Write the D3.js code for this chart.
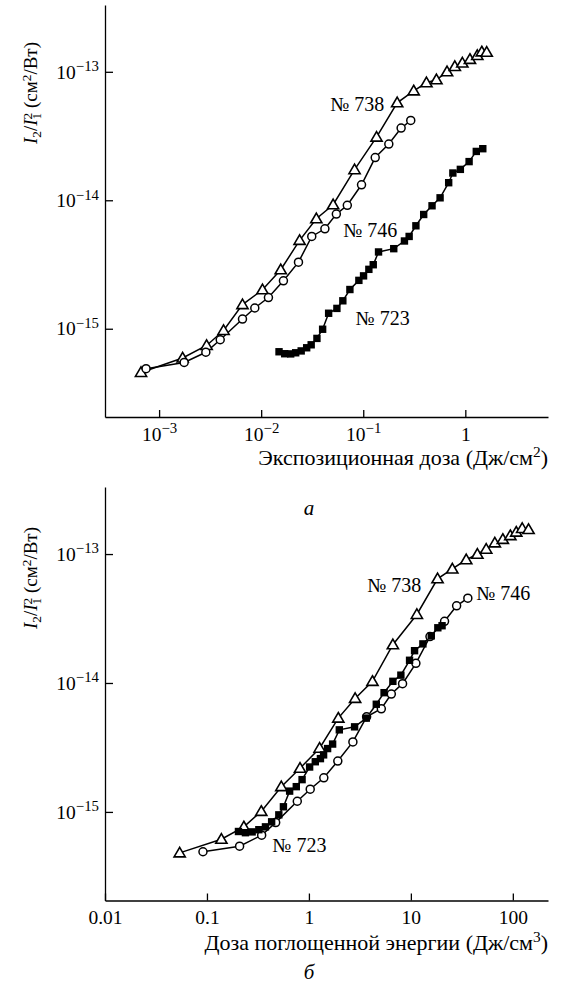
<!DOCTYPE html>
<html>
<head>
<meta charset="utf-8">
<script src="https://cdn.jsdelivr.net/npm/d3@7"></script>
<style>
  body { margin: 0; background: #fff; }
  svg, svg text, svg tspan { font-family: "Liberation Serif", "DejaVu Serif", serif; fill: #000; }
</style>
</head>
<body>
<div id="chart"></div>
<script>
/* ── data: panel a (exposure dose, J/cm^2) ───────────────────────── */
var doseA738 = [6.65e-4, 1.70e-3, 2.92e-3, 4.28e-3, 6.56e-3, 0.0103, 0.01555, 0.0238, 0.0347, 0.0507,
                0.0822, 0.135, 0.215, 0.312, 0.416, 0.521, 0.662, 0.789, 0.935, 1.11, 1.31, 1.45, 1.62];
var ratioA738 = [4.57e-16, 5.92e-16, 7.41e-16, 9.70e-16, 1.54e-15, 2.01e-15, 2.88e-15, 4.87e-15, 7.18e-15, 9.23e-15,
                 1.73e-14, 3.10e-14, 5.74e-14, 7.11e-14, 8.21e-14, 8.67e-14, 1.00e-13, 1.10e-13, 1.17e-13, 1.25e-13, 1.34e-13, 1.43e-13, 1.42e-13];

var doseA746 = [7.45e-4, 1.76e-3, 2.87e-3, 3.97e-3, 6.56e-3, 8.66e-3, 0.01178, 0.01652, 0.0232,
                0.0313, 0.0421, 0.0545, 0.0698, 0.0962, 0.131, 0.178, 0.235, 0.292];
var ratioA746 = [4.89e-16, 5.47e-16, 6.56e-16, 8.21e-16, 1.19e-15, 1.45e-15, 1.75e-15, 2.36e-15, 3.30e-15,
                 5.23e-15, 6.00e-15, 7.81e-15, 9.14e-15, 1.32e-14, 2.15e-14, 2.74e-14, 3.65e-14, 4.18e-14];

var doseA723 = [0.01496, 0.01701, 0.01946, 0.02178, 0.02466, 0.02791, 0.0309, 0.03518, 0.0400, 0.0458,
                0.0552, 0.0631, 0.0740, 0.0906, 0.1007, 0.1135, 0.1253, 0.1412, 0.199, 0.2533,
                0.2816, 0.328, 0.391, 0.472, 0.566, 0.687, 0.755, 0.894, 1.089, 1.281, 1.483];
var ratioA723 = [6.62e-16, 6.39e-16, 6.37e-16, 6.50e-16, 6.72e-16, 7.11e-16, 7.50e-16, 8.41e-16, 9.91e-16, 1.32e-15,
                 1.44e-15, 1.65e-15, 2.02e-15, 2.38e-15, 2.58e-15, 2.90e-15, 3.15e-15, 3.96e-15, 4.20e-15, 4.82e-15,
                 5.23e-15, 6.33e-15, 7.75e-15, 9.06e-15, 1.045e-14, 1.37e-14, 1.63e-14, 1.74e-14, 2.00e-14, 2.40e-14, 2.52e-14];

/* ── data: panel б (absorbed energy dose, J/cm^3) ────────────────── */
var doseB738 = [0.0540, 0.1385, 0.230, 0.341, 0.536, 0.818, 1.273, 1.942, 2.84, 4.20, 6.66, 11.45,
                18.27, 25.5, 34.9, 44.9, 54.8, 66.6, 79.8, 94.5, 108, 123.6, 142.6];
var ratioB738 = [4.81e-16, 6.14e-16, 7.66e-16, 1.01e-15, 1.57e-15, 2.18e-15, 3.12e-15, 5.34e-15, 7.59e-15, 1.03e-14, 1.98e-14, 3.40e-14,
                 6.43e-14, 7.66e-14, 9.03e-14, 9.96e-14, 1.09e-13, 1.22e-13, 1.30e-13, 1.39e-13, 1.48e-13, 1.58e-13, 1.55e-13];

var doseB746 = [0.0914, 0.209, 0.344, 0.472, 0.769, 1.03, 1.40, 1.92, 2.70,
                3.68, 5.13, 6.43, 8.29, 11.2, 15.4, 21.4, 28.1, 36.2];
var ratioB746 = [4.91e-16, 5.42e-16, 6.60e-16, 8.26e-16, 1.21e-15, 1.50e-15, 1.84e-15, 2.48e-15, 3.49e-15,
                 5.47e-15, 6.31e-15, 8.21e-15, 9.88e-15, 1.42e-14, 2.29e-14, 3.01e-14, 3.97e-14, 4.55e-14];

var doseB723 = [0.2037, 0.2385, 0.2774, 0.3228, 0.3748, 0.4309, 0.5069, 0.5623, 0.647, 0.752,
                0.857, 1.016, 1.155, 1.297, 1.393, 1.525, 1.708, 1.987, 2.806, 3.653,
                4.58, 5.46, 6.66, 7.98, 9.71, 10.87, 13.12, 15.85, 18.39, 20.23];
var ratioB723 = [7.05e-16, 6.90e-16, 7.00e-16, 7.28e-16, 7.66e-16, 8.38e-16, 9.49e-16, 1.096e-15, 1.45e-15, 1.57e-15,
                 1.78e-15, 2.23e-15, 2.45e-15, 2.59e-15, 2.77e-15, 3.10e-15, 3.36e-15, 4.33e-15, 4.57e-15, 5.34e-15,
                 6.84e-15, 8.41e-15, 1.03e-14, 1.15e-14, 1.50e-14, 1.78e-14, 2.01e-14, 2.32e-14, 2.68e-14, 2.78e-14];

/* ── ticks ────────────────────────────────────────────────────────── */
var yTicks      = [1e-15, 1e-14, 1e-13];
var yTickExp    = ["\u221215", "\u221214", "\u221213"];
var xTicksA     = [1e-3, 1e-2, 1e-1, 1];
var xTickBaseA  = ["10", "10", "10", "1"];
var xTickExpA   = ["\u22123", "\u22122", "\u22121", ""];
var xTicksB     = [0.01, 0.1, 1, 10, 100];
var xTickBaseB  = ["0.01", "0.1", "1", "10", "100"];

var sampleNames = ["\u2116 738", "\u2116 746", "\u2116 723"];

/* ── layout ───────────────────────────────────────────────────────── */
var W = 563, H = 989;
var LEFT = 105, RIGHT = 548;
var Y_DOMAIN = [Math.pow(10, -15.687), Math.pow(10, -12.48)];
var FONT = "'Liberation Serif', 'DejaVu Serif', serif";

var svg = d3.select("#chart").append("svg")
    .attr("width", W)
    .attr("height", H)
    .attr("font-family", FONT);

var panels = [
    {
        top: 5, bottom: 417, yTitleCenter: 93,
        xDomain: [Math.pow(10, -3.53), Math.pow(10, 0.81)],
        xTicks: xTicksA, xBase: xTickBaseA, xExp: xTickExpA,
        series: [
            { x: doseA738, y: ratioA738, marker: "triangle" },
            { x: doseA746, y: ratioA746, marker: "circle" },
            { x: doseA723, y: ratioA723, marker: "square" }
        ],
        labels: [
            { name: sampleNames[0], at: [0.161, 4.98e-14], anchor: "end" },
            { name: sampleNames[1], at: [0.0637, 5.2e-15], anchor: "start" },
            { name: sampleNames[2], at: [0.0841, 1.07e-15], anchor: "start" }
        ],
        title: ["\u042d\u043a\u0441\u043f\u043e\u0437\u0438\u0446\u0438\u043e\u043d\u043d\u0430\u044f \u0434\u043e\u0437\u0430 (\u0414\u0436/\u0441\u043c", "2", ")"],
        titleY: 465,
        letter: "\u0430", letterY: 515
    },
    {
        top: 487, bottom: 900.5, yTitleCenter: 578,
        xDomain: [0.01, Math.pow(10, 2.345)],
        xTicks: xTicksB, xBase: xTickBaseB, xExp: ["", "", "", "", ""],
        series: [
            { x: doseB738, y: ratioB738, marker: "triangle" },
            { x: doseB746, y: ratioB746, marker: "circle" },
            { x: doseB723, y: ratioB723, marker: "square" }
        ],
        labels: [
            { name: sampleNames[0], at: [12.65, 5.05e-14], anchor: "end" },
            { name: sampleNames[1], at: [43.8, 4.37e-14], anchor: "start" },
            { name: sampleNames[2], at: [0.438, 4.87e-16], anchor: "start" }
        ],
        title: ["\u0414\u043e\u0437\u0430 \u043f\u043e\u0433\u043b\u043e\u0449\u0435\u043d\u043d\u043e\u0439 \u044d\u043d\u0435\u0440\u0433\u0438\u0438 (\u0414\u0436/\u0441\u043c", "3", ")"],
        titleY: 950,
        letter: "\u0431", letterY: 979
    }
];

/* ── helpers ──────────────────────────────────────────────────────── */
var TRI = "M0,-5.6L5.6,4L-5.6,4Z";

function drawMarker(g, type, px, py) {
    if (type === "triangle") {
        g.append("path").attr("d", TRI)
            .attr("transform", "translate(" + px + "," + py + ")")
            .attr("fill", "#fff").attr("stroke", "#000").attr("stroke-width", 1.6);
    } else if (type === "circle") {
        g.append("circle").attr("cx", px).attr("cy", py).attr("r", 4)
            .attr("fill", "#fff").attr("stroke", "#000").attr("stroke-width", 1.5);
    } else {
        g.append("rect").attr("x", px - 3.7).attr("y", py - 3.7)
            .attr("width", 7.4).attr("height", 7.4)
            .attr("fill", "#000");
    }
}

function addPower(textSel, base, exp) {
    textSel.text(null);
    textSel.append("tspan").text(base);
    if (exp) {
        textSel.append("tspan")
            .attr("dy", "-0.5em")
            .attr("font-size", "0.76em")
            .text(exp);
    }
}

/* ── draw ─────────────────────────────────────────────────────────── */
panels.forEach(function (p) {
    var x = d3.scaleLog().domain(p.xDomain).range([LEFT, RIGHT]);
    var y = d3.scaleLog().domain(Y_DOMAIN).range([p.bottom, p.top]);
    var g = svg.append("g");

    // x axis, ticks pointing inward
    var gx = g.append("g")
        .attr("transform", "translate(0," + p.bottom + ")")
        .call(d3.axisBottom(x).tickValues(p.xTicks).tickSize(-7).tickSizeOuter(0).tickPadding(10).tickFormat(""));
    gx.selectAll(".tick text").each(function (d, i) {
        addPower(d3.select(this), p.xBase[i], p.xExp[i]);
    });

    // y axis
    var gy = g.append("g")
        .attr("transform", "translate(" + LEFT + ",0)")
        .call(d3.axisLeft(y).tickValues(yTicks).tickSize(-8).tickSizeOuter(0).tickPadding(6).tickFormat(""));
    gy.selectAll(".tick text").each(function (d, i) {
        addPower(d3.select(this), "10", yTickExp[i]);
    });

    [gx, gy].forEach(function (a) {
        a.attr("font-family", FONT).attr("font-size", 19.5);
        a.selectAll("path, line").attr("stroke", "#000").attr("stroke-width", 1.3);
    });

    // lines
    var line = d3.line()
        .x(function (d) { return x(d[0]); })
        .y(function (d) { return y(d[1]); });

    p.series.forEach(function (s) {
        var pts = d3.zip(s.x, s.y);
        g.append("path").datum(pts)
            .attr("d", line)
            .attr("fill", "none")
            .attr("stroke", "#000")
            .attr("stroke-width", 1.5);
    });
    p.series.forEach(function (s) {
        var mg = g.append("g");
        d3.zip(s.x, s.y).forEach(function (d) {
            drawMarker(mg, s.marker, x(d[0]), y(d[1]));
        });
    });

    // sample labels
    p.labels.forEach(function (l) {
        g.append("text")
            .attr("x", x(l.at[0])).attr("y", y(l.at[1]))
            .attr("text-anchor", l.anchor)
            .attr("font-size", 20)
            .text(l.name);
    });

    // y title: I2/I1^2 (см^2/Вт)
    var yt = g.append("text")
        .attr("transform", "translate(37," + p.yTitleCenter + ") rotate(-90)")
        .attr("text-anchor", "middle")
        .attr("font-size", 19);
    yt.append("tspan").attr("font-style", "italic").text("I");
    yt.append("tspan").attr("font-size", "0.7em").attr("dy", "0.3em").text("2");
    yt.append("tspan").attr("dy", "-0.21em").text("/");
    yt.append("tspan").attr("font-style", "italic").text("I");
    yt.append("tspan").attr("font-size", "0.7em").attr("dy", "-0.35em").text("2");
    yt.append("tspan").attr("font-size", "0.7em").attr("dx", "-0.5em").attr("dy", "0.65em").text("1");
    yt.append("tspan").attr("dy", "-0.21em").text(" (\u0441\u043c");
    yt.append("tspan").attr("font-size", "0.7em").attr("dy", "-0.45em").text("2");
    yt.append("tspan").attr("dy", "0.315em").text("/\u0412\u0442)");

    // x title
    var xt = g.append("text")
        .attr("x", RIGHT).attr("y", p.titleY)
        .attr("text-anchor", "end")
        .attr("font-size", 22);
    xt.append("tspan").text(p.title[0]);
    xt.append("tspan").attr("font-size", "0.7em").attr("dy", "-0.5em").text(p.title[1]);
    xt.append("tspan").attr("dy", "0.35em").text(p.title[2]);

    // panel letter
    g.append("text")
        .attr("x", 309).attr("y", p.letterY)
        .attr("text-anchor", "middle")
        .attr("font-style", "italic")
        .attr("font-size", 21)
        .text(p.letter);
});
</script>
</body>
</html>
